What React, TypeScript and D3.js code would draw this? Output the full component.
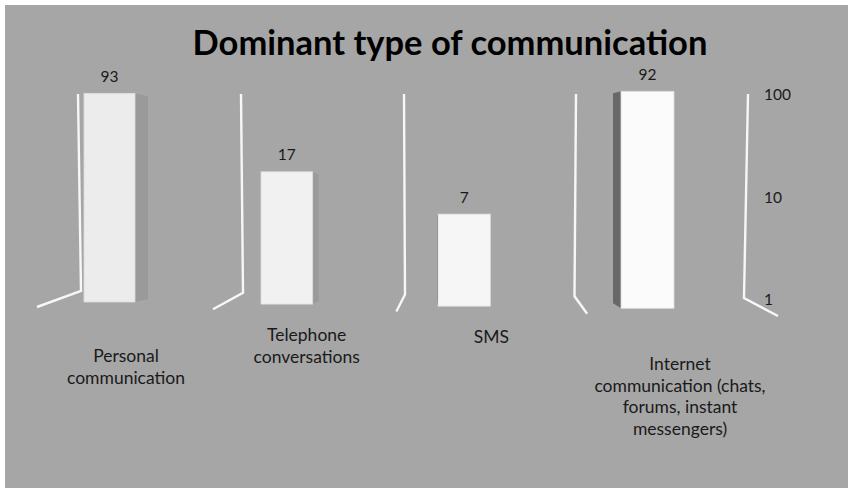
import React from "react";
import * as d3 from "d3";

const title = "Dominant type of communication";
const categories = [
  "Personal\ncommunication",
  "Telephone\nconversations",
  "SMS",
  "Internet\ncommunication (chats,\nforums, instant\nmessengers)",
];
const values = [93, 17, 7, 92];
const tickValues = [1, 10, 100];

// layout (perspective approximation)
const W = 848;
const H = 488;
const labelBaselines = [362, 341, 343, 370];

export default function App() {
  const n = values.length;
  const barLeft = d3.scaleLinear().domain([0, 2, 3]).range([84, 438, 621]);
  const barWidth = d3.scaleLinear().domain([0, n - 1]).range([51, 53]);
  const barBase = d3.scaleLinear().domain([0, n - 1]).range([302, 308.3]);
  const perDecade = d3.scaleLinear().domain([0, n - 1]).range([106, 110.5]);
  const depth = d3.scaleLinear().domain([0, n - 1]).range([13, -8]);
  const frontFill = d3.scaleLinear<string>().domain([0, n - 1]).range(["#ececec", "#fbfbfb"]);

  const wallTopX = d3.scaleLinear().domain([0, 2, 4]).range([78, 404, 748]);
  const wallBotX = d3.scaleLinear().domain([0, 2, 4]).range([81, 405, 744]);
  const wallBotY = d3.scaleLinear().domain([0, 4]).range([291, 298]);
  const wallDx = d3.scaleLinear().domain([0, 1, 4]).range([-44, -30, 34]);
  const wallDy = d3.scaleLinear().domain([0, 4]).range([16, 18]);

  const labelX = d3.scaleLinear().domain([0, 1.5, 3]).range([126, 397, 680]);

  const axisY = d3.scaleLog().domain([1, 100]).range([299, 94]);

  const yScale = (i: number) =>
    d3
      .scaleLog()
      .domain([1, 100])
      .range([barBase(i), barBase(i) - 2 * perDecade(i)]);

  const walls = d3.range(n + 1);

  return (
    <svg
      width={W}
      height={H}
      style={{ position: "absolute", left: 0, top: 0, display: "block" }}
      fontFamily="Lato, 'Open Sans', sans-serif"
    >
      <rect x={0} y={0} width={W} height={H} fill="#ffffff" />
      <rect x={5} y={5} width={W - 5} height={H - 5} fill="#a6a6a6" />

      <text
        x={450}
        y={55}
        textAnchor="middle"
        fontSize={34.5}
        fontWeight={700}
        fill="#000"
      >
        {title}
      </text>

      {walls.map((k) => {
        const tx = wallTopX(k);
        const bx = wallBotX(k);
        const by = wallBotY(k);
        const path = d3.path();
        path.moveTo(tx, 94);
        path.lineTo(bx, by);
        path.lineTo(bx + wallDx(k), by + wallDy(k));
        return (
          <path
            key={"w" + k}
            d={path.toString()}
            fill="none"
            stroke="#f7f7f7"
            strokeWidth={2.4}
            strokeLinejoin="miter"
          />
        );
      })}

      {values.map((v, i) => {
        const y = yScale(i);
        const x0 = barLeft(i);
        const w = barWidth(i);
        const top = y(v);
        const base = y(1);
        const d = depth(i);
        let side: string | null = null;
        let sideFill = "#9b9b9b";
        if (d > 0.5) {
          side = `M${x0 + w},${top}L${x0 + w + d},${top + 3}L${x0 + w + d},${base - 3}L${x0 + w},${base}Z`;
          sideFill = "#9a9a9a";
        } else if (d < -0.5) {
          side = `M${x0},${top}L${x0 + d},${top + 2}L${x0 + d},${base - 5}L${x0},${base}Z`;
          sideFill = "#686868";
        }
        return (
          <g key={"b" + i}>
            {side && <path d={side} fill={sideFill} />}
            <rect
              x={x0}
              y={top}
              width={w}
              height={base - top}
              fill={frontFill(i)}
              stroke="#dcdcdc"
              strokeWidth={0.8}
            />
            <text
              x={x0 + w / 2}
              y={top - 11.5}
              textAnchor="middle"
              fontSize={15.5}
              fill="#1a1a1a"
            >
              {v}
            </text>
          </g>
        );
      })}

      {tickValues.map((t) => (
        <text key={"t" + t} x={764} y={axisY(t) + 6} fontSize={15.5} fill="#1a1a1a">
          {t}
        </text>
      ))}

      {categories.map((c, i) => (
        <text
          key={"c" + i}
          textAnchor="middle"
          fontSize={17.5}
          fill="#1a1a1a"
        >
          {c.split("\n").map((line, j) => (
            <tspan key={j} x={labelX(i)} y={labelBaselines[i] + j * 21.5}>
              {line}
            </tspan>
          ))}
        </text>
      ))}
    </svg>
  );
}
